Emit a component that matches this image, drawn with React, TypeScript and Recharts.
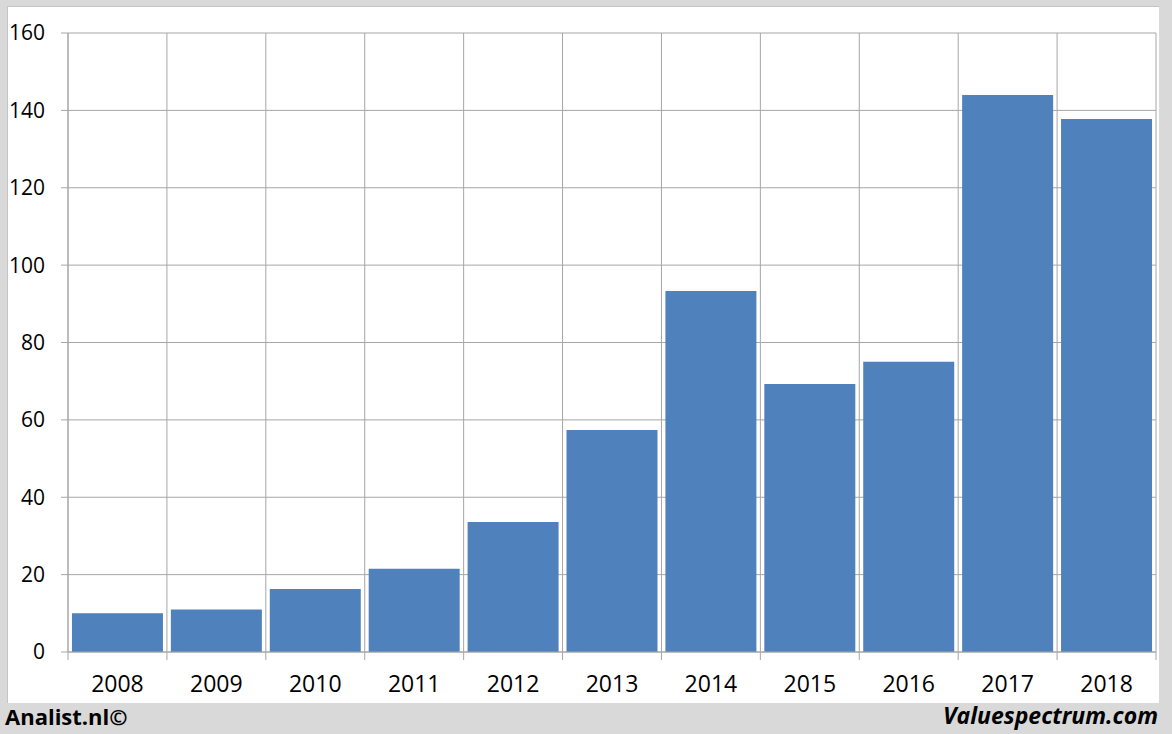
import { Bar, BarChart, CartesianGrid, XAxis, YAxis } from "recharts";

const years = ["2008", "2009", "2010", "2011", "2012", "2013", "2014", "2015", "2016", "2017", "2018"];
const values = [10, 11, 16.3, 21.5, 33.6, 57.4, 93.3, 69.3, 75, 144, 137.8];
const yTicks = [0, 20, 40, 60, 80, 100, 120, 140, 160];

const W = 1172;
const H = 734;
const PLOT_LEFT = 68;
const PLOT_RIGHT = 1156;
const PLOT_TOP = 33;
const PLOT_BOTTOM = 652;
const BAND = (PLOT_RIGHT - PLOT_LEFT) / years.length;
const GRID = "#a6a6a6";
const FONT = "'Open Sans', 'DejaVu Sans', sans-serif";

const data = years.map((year, i) => ({ year, value: values[i] }));
const verticalPoints = Array.from({ length: years.length + 1 }, (_, i) => PLOT_LEFT + i * BAND);

function YearTick(props: any) {
  const { x, y, payload, index } = props;
  const left = x - BAND / 2;
  const right = x + BAND / 2;
  return (
    <g>
      <line x1={left} x2={left} y1={y} y2={y + 8} stroke={GRID} />
      {index === years.length - 1 && <line x1={right} x2={right} y1={y} y2={y + 8} stroke={GRID} />}
      <text x={x} y={y + 40} textAnchor="middle" fill="#000" fontSize={23} fontFamily={FONT}>
        {payload.value}
      </text>
    </g>
  );
}

export default function App() {
  return (
    <div style={{ position: "absolute", left: 0, top: 0, width: W, height: H, background: "#d9d9d9", overflow: "hidden" }}>
      <div
        style={{
          position: "absolute",
          left: 7,
          top: 6,
          width: 1152,
          height: 697,
          background: "#fff",
          borderLeft: "1px solid #c4c4c4",
          borderTop: "1px solid #c4c4c4",
          boxSizing: "border-box",
        }}
      />
      <div style={{ position: "absolute", left: 0, top: 0 }}>
        <BarChart
          width={W}
          height={H}
          data={data}
          margin={{ top: PLOT_TOP, right: W - PLOT_RIGHT, bottom: H - PLOT_BOTTOM - 40, left: 0 }}
          barCategoryGap="4%"
        >
          <CartesianGrid stroke={GRID} verticalPoints={verticalPoints} />
          <YAxis
            width={PLOT_LEFT}
            domain={[0, 160]}
            ticks={yTicks}
            interval={0}
            axisLine={{ stroke: GRID }}
            tickLine={{ stroke: GRID }}
            tickSize={7}
            tickMargin={16}
            tick={{ fill: "#000", fontSize: 21, fontFamily: FONT }}
          />
          <XAxis
            dataKey="year"
            height={40}
            interval={0}
            axisLine={{ stroke: GRID }}
            tickLine={false}
            tickSize={0}
            tickMargin={0}
            tick={<YearTick />}
          />
          <Bar dataKey="value" fill="#4f81bd" isAnimationActive={false} />
        </BarChart>
      </div>
      <div
        style={{
          position: "absolute",
          left: 5,
          top: 700,
          fontFamily: FONT,
          fontWeight: 700,
          fontSize: 22,
          color: "#000",
          lineHeight: "32px",
        }}
      >
        Analist.nl©
      </div>
      <div
        style={{
          position: "absolute",
          right: 14,
          top: 699,
          fontFamily: FONT,
          fontWeight: 700,
          fontStyle: "italic",
          fontSize: 23,
          color: "#000",
          lineHeight: "32px",
        }}
      >
        Valuespectrum.com
      </div>
    </div>
  );
}
